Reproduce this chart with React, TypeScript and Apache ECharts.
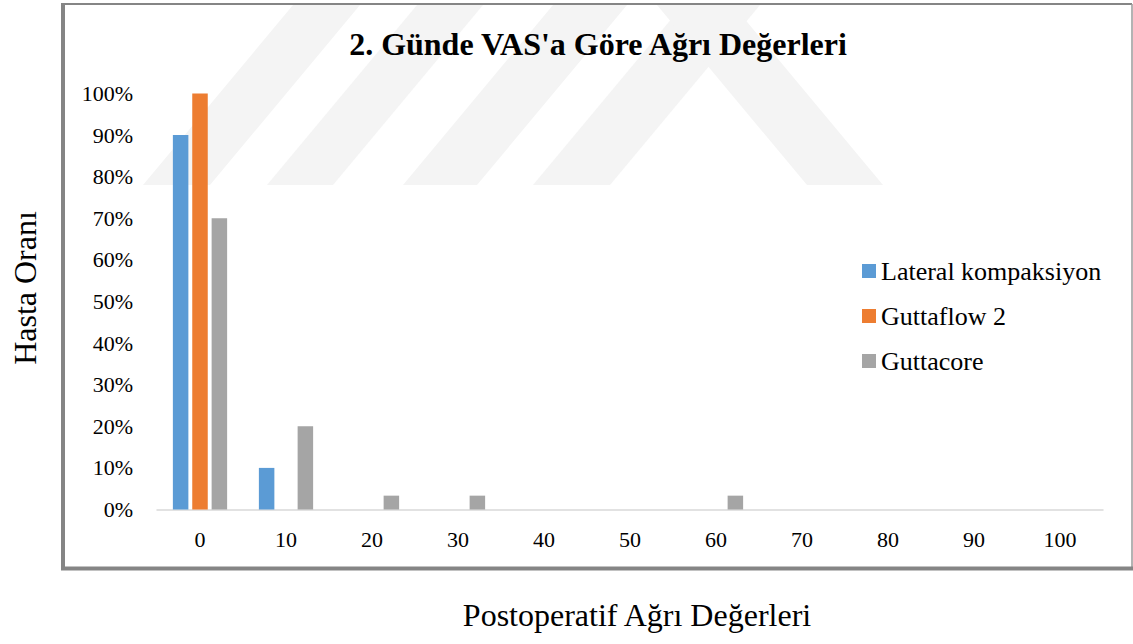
import React, { useEffect, useRef } from "react";
import * as echarts from "echarts";

const categories = ["0", "10", "20", "30", "40", "50", "60", "70", "80", "90", "100"];
const lateralKompaksiyon = [0.9, 0.1, 0, 0, 0, 0, 0, 0, 0, 0, 0];
const guttaflow2 = [1.0, 0, 0, 0, 0, 0, 0, 0, 0, 0, 0];
const guttacore = [0.7, 0.2, 0.0333, 0.0333, 0, 0, 0.0333, 0, 0, 0, 0];
const seriesNames = ["Lateral kompaksiyon", "Guttaflow 2", "Guttacore"];
const colors = ["#5B9BD5", "#ED7D31", "#A5A5A5"];
const chartTitle = "2. Günde VAS'a Göre Ağrı Değerleri";
const yTitle = "Hasta Oranı";
const xTitle = "Postoperatif Ağrı Değerleri";

const FONT = "Liberation Serif";

// faint background watermark bands
const wm = "#f4f4f4";
const watermark = [
  [[143, 185], [210, 185], [360, 5], [293, 5]],
  [[267, 185], [333, 185], [483, 5], [417, 5]],
  [[403, 185], [477, 185], [627, 5], [553, 5]],
  [[533, 185], [610, 185], [760, 5], [683, 5]],
  [[807, 185], [883, 185], [733, 5], [657, 5]],
];

export default function App() {
  const ref = useRef<HTMLDivElement>(null);
  useEffect(() => {
    if (!ref.current) return;
    const chart = echarts.init(ref.current, null, { renderer: "svg" });
    const frameColor = "#858585";
    const graphics: any[] = [
      ...watermark.map((pts) => ({
        type: "polygon",
        z: -10,
        silent: true,
        shape: { points: pts },
        style: { fill: wm },
      })),
      { type: "line", z: 10, shape: { x1: 62, y1: 4, x2: 1132, y2: 4 }, style: { stroke: frameColor, lineWidth: 2 } },
      { type: "line", z: 10, shape: { x1: 1132, y1: 4, x2: 1132, y2: 567 }, style: { stroke: "#9a9a9a", lineWidth: 1.5 } },
      { type: "line", z: 10, shape: { x1: 63, y1: 3, x2: 63, y2: 570 }, style: { stroke: frameColor, lineWidth: 4 } },
      { type: "line", z: 10, shape: { x1: 61, y1: 568.5, x2: 1133, y2: 568.5 }, style: { stroke: frameColor, lineWidth: 4 } },
      {
        type: "text",
        x: 25,
        y: 288,
        rotation: Math.PI / 2,
        style: {
          text: yTitle,
          fontFamily: FONT,
          fontSize: 32,
          fill: "#000",
          textAlign: "center",
          textVerticalAlign: "middle",
        },
      },
      {
        type: "text",
        x: 637,
        y: 615,
        style: {
          text: xTitle,
          fontFamily: FONT,
          fontSize: 32,
          fill: "#000",
          textAlign: "center",
          textVerticalAlign: "middle",
        },
      },
    ];
    const data = [lateralKompaksiyon, guttaflow2, guttacore];
    chart.setOption({
      animation: false,
      backgroundColor: "#fff",
      textStyle: { fontFamily: FONT },
      title: {
        text: chartTitle,
        left: 593,
        top: 23,
        textAlign: "center",
        textStyle: { fontFamily: FONT, fontSize: 32, fontWeight: "bold", color: "#000" },
      },
      legend: {
        orient: "vertical",
        left: 857,
        top: 253,
        itemWidth: 14,
        itemHeight: 14,
        itemGap: 19,
        icon: "rect",
        data: seriesNames,
        textStyle: { fontFamily: FONT, fontSize: 26, color: "#000" },
      },
      grid: { left: 157, right: 30, top: 93.5, bottom: 134.5, containLabel: false },
      xAxis: {
        type: "category",
        data: categories,
        axisLine: { lineStyle: { color: "#D9D9D9", width: 1.5 } },
        axisTick: { show: false },
        axisLabel: { fontFamily: FONT, fontSize: 22, color: "#000", margin: 19 },
      },
      yAxis: {
        type: "value",
        min: 0,
        max: 1,
        interval: 0.1,
        axisLine: { show: false },
        axisTick: { show: false },
        splitLine: { show: false },
        axisLabel: {
          fontFamily: FONT,
          fontSize: 22,
          color: "#000",
          margin: 24,
          formatter: (v: number) => Math.round(v * 100) + "%",
        },
      },
      graphic: graphics,
      series: seriesNames.map((name, i) => ({
        name,
        type: "bar",
        data: data[i],
        barWidth: 15.5,
        barGap: "25%",
        itemStyle: { color: colors[i] },
      })),
    });
    return () => chart.dispose();
  }, []);
  return (
    <div
      ref={ref}
      style={{ position: "absolute", left: 0, top: 0, width: 1133, height: 644 }}
    />
  );
}
